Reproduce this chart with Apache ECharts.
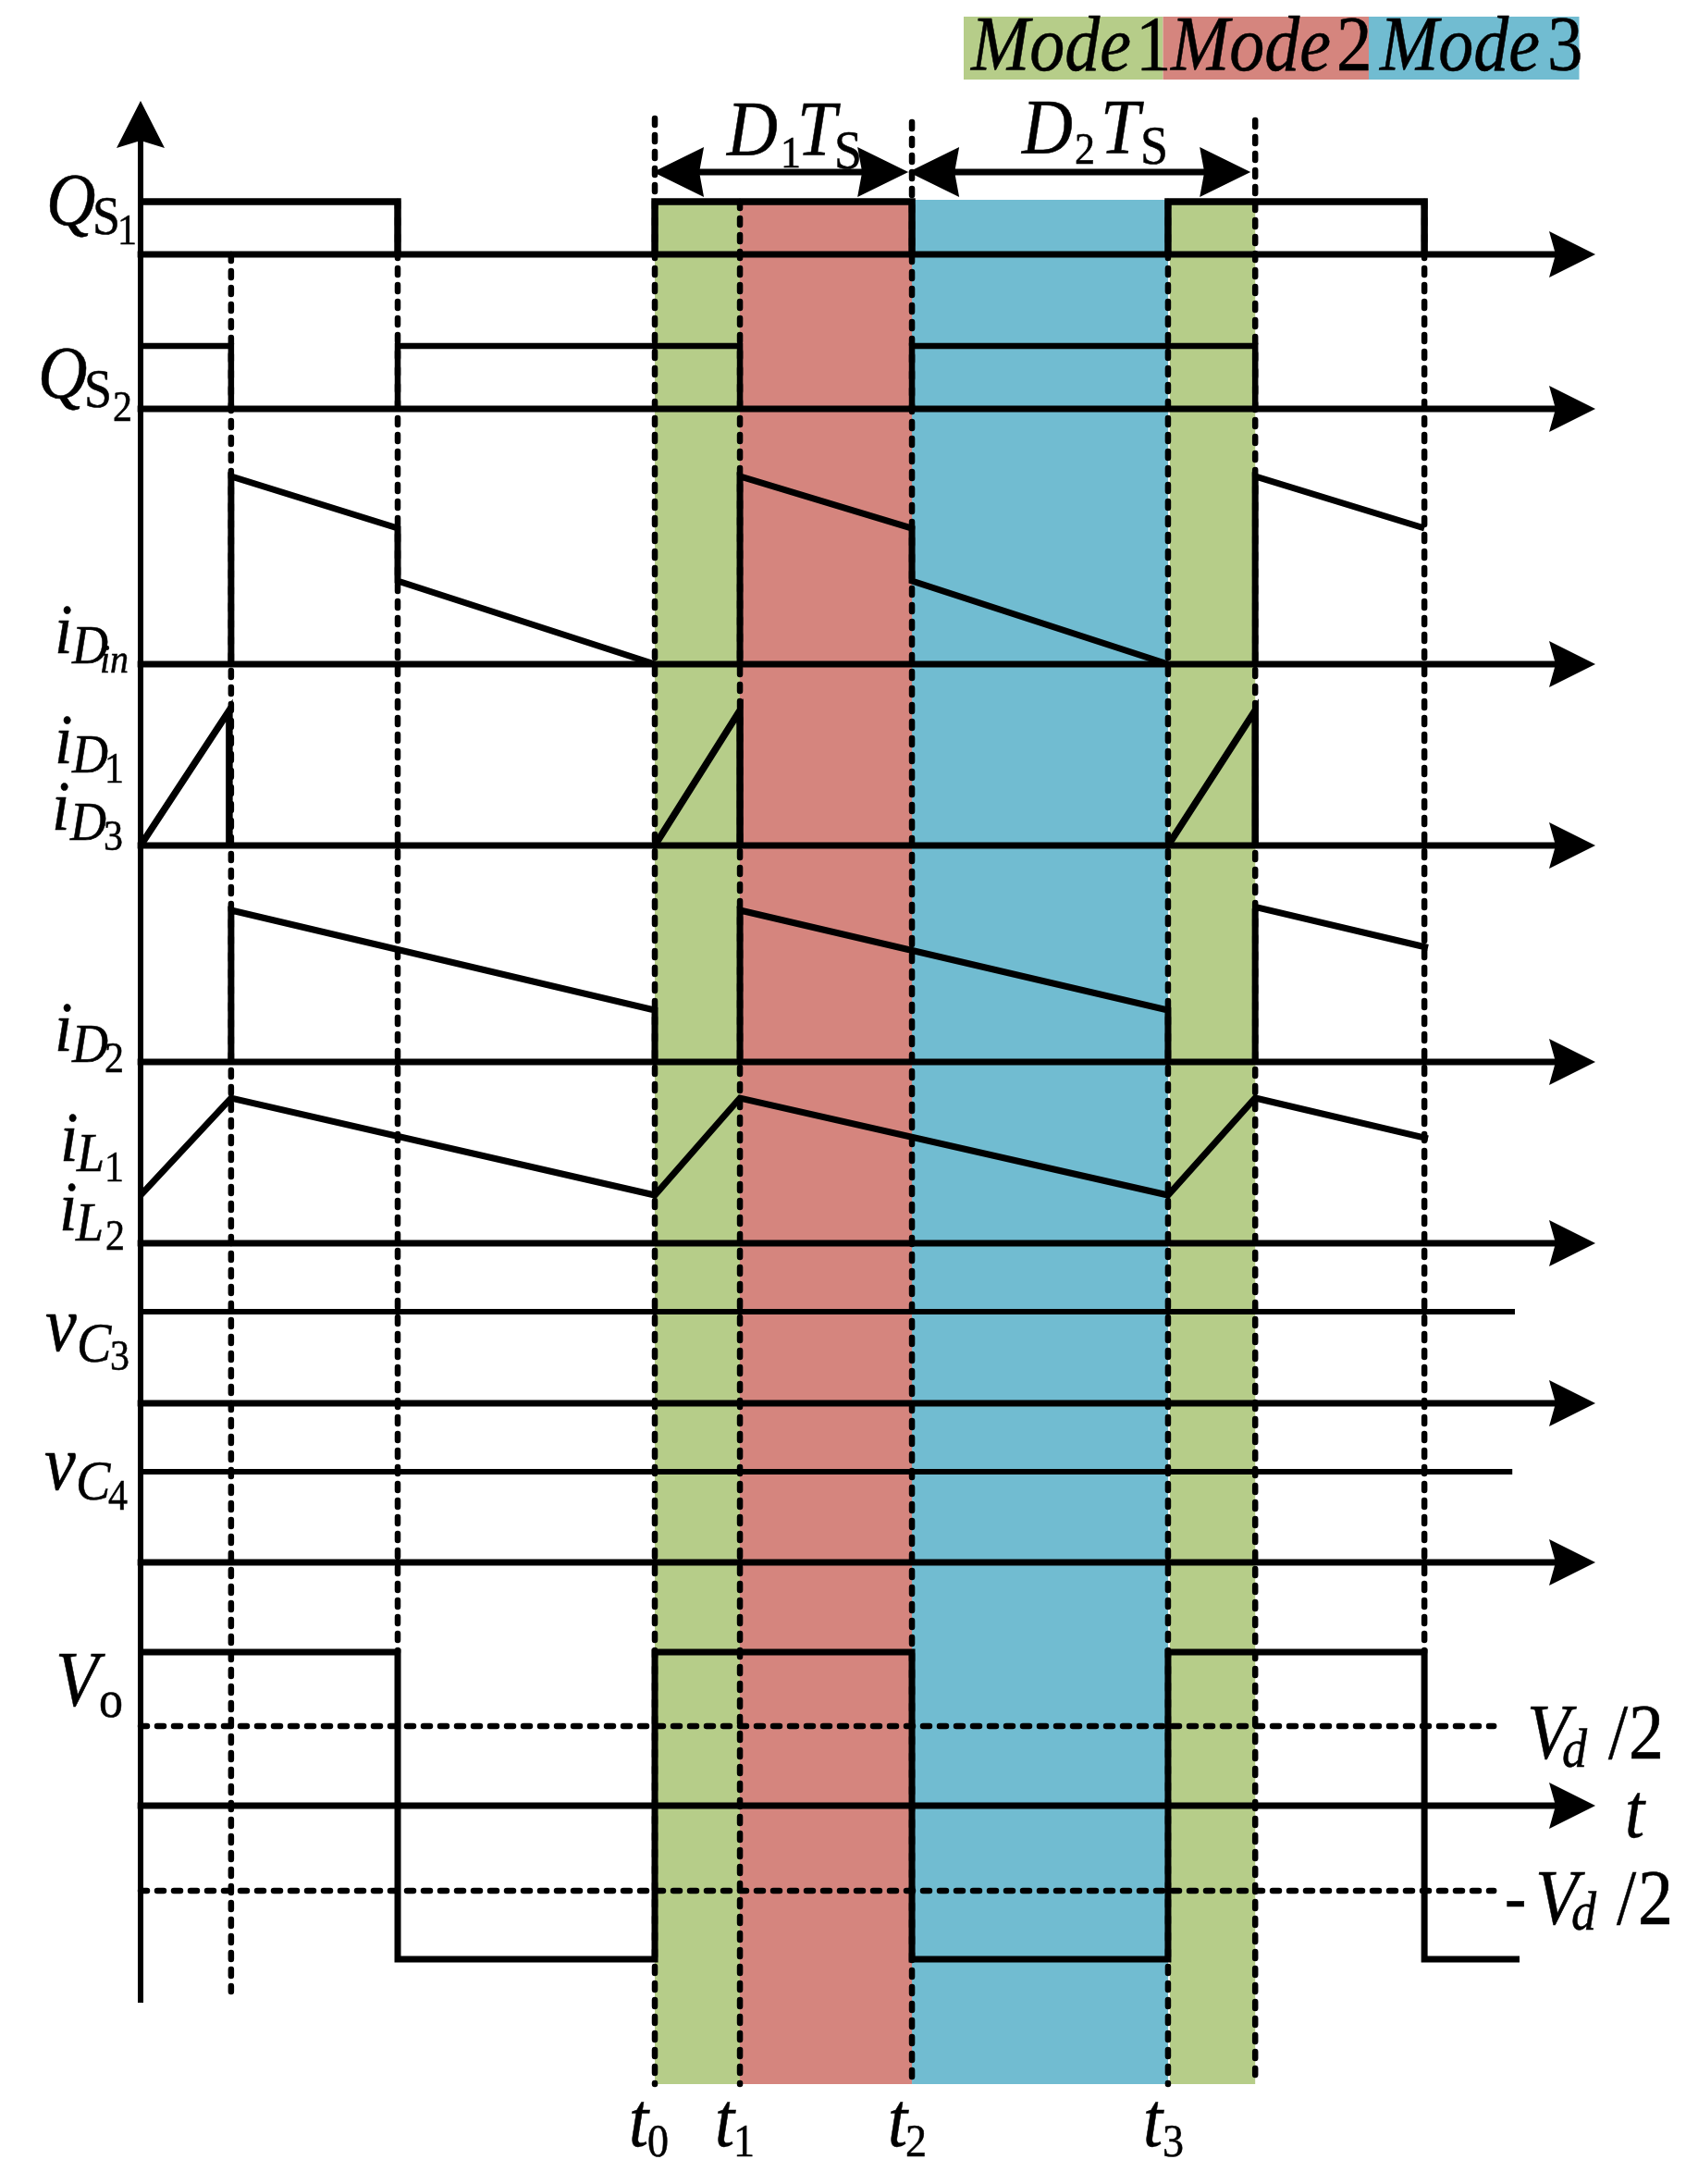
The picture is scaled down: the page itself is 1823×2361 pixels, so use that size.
<!DOCTYPE html>
<html>
<head>
<meta charset="utf-8">
<style>html,body{margin:0;padding:0;background:#fff}#c{width:1823px;height:2361px}</style>
<script src="https://cdn.jsdelivr.net/npm/echarts@6/dist/echarts.min.js"></script>
</head>
<body>
<div id="c"></div>
<script>
// ---- switching instants (time unit = half a switching period) ----
const tA = 0.352, tB = 1, t0 = 2, t1 = 2.331, t2 = 3, t3 = 3.996, t4 = 4.335, tC = 4.993;
const timeEnd = 5.658;

// ---- waveforms: time / level pairs, null breaks the trace ----
const q1Time  = [0, 1, 1, null, 2, 2, 3, 3, null, t3, t3, tC, tC];
const q1Level = [1, 1, 0, null, 0, 1, 1, 0, null, 0, 1, 1, 0];
const q2Time  = [0, tA, tA, null, 1, 1, t1, t1, null, 3, 3, t4, t4];
const q2Level = [1, 1, 0, null, 0, 1, 1, 0, null, 0, 1, 1, 0];
const iDinTime  = [tA, tA, 1, 1, 2, null, t1, t1, 3, 3, t3, null, t4, t4, tC];
const iDinLevel = [0, 1, 0.724, 0.443, 0, null, 0, 1, 0.724, 0.443, 0, null, 0, 1, 0.724];
const iD1Time  = [0, 0.345, 0.345, null, 2, t1, t1, null, t3, t4, t4];
const iD1Level = [0, 1, 0, null, 0, 1, 0, null, 0, 1, 0];
const iD2Time  = [tA, tA, 2, 2, null, t1, t1, t3, t3, null, t4, t4, 4.345, 5.007];
const iD2Level = [0, 1, 0.341, 0, null, 0, 1, 0.341, 0, null, 0, 1, 1.018, 0.753];
const iLTime  = [0, tA, 2, t1, t3, t4, 5.007];
const iLLevel = [0.331, 1, 0.331, 1, 0.331, 1, 0.72];
const vC3Time  = [0, 5.345];
const vC3Level = [1, 1];
const vC4Time  = [0, 5.335];
const vC4Level = [1, 1];
const voTime  = [0, 1, 1, 2, 2, 3, 3, t3, t3, tC, tC, 5.363];
const voLevel = [1, 1, -1, -1, 1, 1, -1, -1, 1, 1, -1, -1];
const vdHalfTime = [0, 5.263];
const vdPosLevel = [0.518, 0.518];
const vdNegLevel = [-0.554, -0.554];

// ---- mode bands and guides ----
const modeNames  = ['Mode', 'Mode', 'Mode'];
const modeDigits = ['1', '2', '3'];
const bandStart = [t0, t1, t2, 4.003];
const bandEnd   = [t1, t2, t3, t4];
const bandMode  = [0, 1, 2, 0];
const guideTime = [tA, tB, t0, t1, t2, t3, t4, tC];
const guideFrom = [275, 218, 128, 218, 132, 218, 130, 218];
const guideTo   = [2153, 1786, 2253, 2253, 2253, 2253, 2253, 1786];
const dimStart = [1.993, 2.986];
const dimEnd   = [2.986, 4.317];

// ---- text pieces: string, left edge, baseline, size, italic ----
const labelText = [
 'Q','S','1','Q','S','2',
 'i','D','in','i','D','1','i','D','3','i','D','2',
 'i','L','1','i','L','2',
 'v','C','3','v','C','4','V','o',
 'V','d','/','2','t','-','V','d','/','2',
 't','0','t','1','t','2','t','3',
 'D','1','T','S','D','2','T','S',
 'Mode','1','Mode','2','Mode','3'];
const labelX = [
 50,100,127,41,91,122,
 59,78,108,59,78,113,56,76,112,59,78,113,
 65,83,113,64,82,114,
 49,83,119,48,82,117,60,107,
 1651,1689,1739,1761,1757,1627,1660,1699,1748,1771,
 680,700,773,793,960,979,1236,1257,
 786,844,862,902,1105,1162,1190,1233,
 1050,1228,1266,1445,1492,1673];
const labelY = [
 245,255,265,432,442,456,
 708,719,728,827,837,847,899,910,920,1138,1150,1160,
 1257,1268,1278,1332,1343,1352,
 1462,1474,1482,1612,1623,1633,1846,1858,
 1903,1912,1903,1903,1988,2078,2082,2088,2082,2082,
 2322,2332,2322,2332,2322,2332,2322,2332,
 170,182,170,184,168,178,168,179,
 78,78,78,78,78,78];
const labelSize = [
 74,54,42,74,54,42,
 70,54,40,70,54,42,70,54,42,70,54,42,
 70,54,42,70,54,42,
 76,56,42,76,56,42,76,52,
 76,54,76,76,76,70,76,54,76,76,
 76,46,76,46,76,46,76,46,
 76,44,76,54,76,44,76,54,
 76,77,76,77,76,77];
const labelItalic = [
 1,0,0,1,0,0,
 1,1,1,1,1,0,1,1,0,1,1,0,
 1,1,0,1,1,0,
 1,1,0,1,1,0,1,0,
 1,1,0,0,1,0,1,1,0,0,
 1,0,1,0,1,0,1,0,
 1,0,1,0,1,0,1,0,
 1,0,1,0,1,0];
const legendEdges = [1042, 1257.5, 1480, 1707.5];

// ---- styling and layout ----
const modeColors = ['#B6CD89', '#D5857E', '#71BCD1'];
const plotLeft = 152, plotWidth = 1573;
const FONT = '"Liberation Serif","Times New Roman",serif';
const textStretchY = 1.1;

const traces = [
 {t:q1Time,  v:q1Level,  top:218,  bottom:275,  w:7.5},
 {t:q2Time,  v:q2Level,  top:374,  bottom:442,  w:6.5},
 {t:iDinTime,v:iDinLevel,top:515,  bottom:718,  w:7},
 {t:iD1Time, v:iD1Level, top:768,  bottom:914,  w:7.5},
 {t:iD2Time, v:iD2Level, top:984,  bottom:1148, w:7},
 {t:iLTime,  v:iLLevel,  top:1187, bottom:1344, w:7},
 {t:vC3Time, v:vC3Level, top:1418, bottom:1517, w:6},
 {t:vC4Time, v:vC4Level, top:1591, bottom:1689, w:6},
 {t:voTime,  v:voLevel,  top:1786, bottom:2118, w:7, min:-1}
];

const grid = [], xAxis = [], yAxis = [], series = [];
function addGrid(g, x, y) {
  grid.push(Object.assign({containLabel:false}, g));
  const i = grid.length - 1;
  xAxis.push(Object.assign({type:'value', gridIndex:i, show:false}, x));
  yAxis.push(Object.assign({type:'value', gridIndex:i, show:false}, y));
  return i;
}
const zip = (t, v) => t.map((x, i) => x === null ? ['-', '-'] : [x, v[i]]);
const line = (i, data, width, z, extra) => ({
  type:'line', xAxisIndex:i, yAxisIndex:i, data, showSymbol:false, symbol:'none',
  clip:false, silent:true, animation:false, z,
  lineStyle:Object.assign({color:'#000', width, cap:'butt', join:'miter'}, extra || {})
});
function head(px, py, dir, len, half, notch) {
  const p = (a, b) => dir === 'r' ? [px + a, py + b] : dir === 'l' ? [px - a, py + b] : [px + b, py - a];
  return {type:'polygon', shape:{points:[p(0,0), p(-len,-half), p(-len+notch,0), p(-len,half)]}, style:{fill:'#000'}};
}

// annotation grid: whole page
const page = addGrid({left:0, top:0, width:1823, height:2361}, {min:0, max:1823}, {min:0, max:2361, inverse:true});
// time grid spanning the page height: bands and guides
const span = addGrid({left:plotLeft, top:0, width:plotWidth, height:2361}, {min:0, max:timeEnd}, {min:0, max:2361, inverse:true});

// bands
series.push({
  type:'custom', xAxisIndex:span, yAxisIndex:span, z:1, silent:true, animation:false, clip:false,
  data:bandStart.map((s, i) => [s, bandEnd[i]]),
  renderItem(p, api) {
    const a = api.coord([api.value(0), 216]), b = api.coord([api.value(1), 2253]);
    return {type:'rect', shape:{x:a[0], y:a[1], width:b[0]-a[0], height:b[1]-a[1]},
            style:{fill:modeColors[bandMode[p.dataIndex]]}};
  }
});
// legend swatches
series.push({
  type:'custom', xAxisIndex:page, yAxisIndex:page, z:1, silent:true, animation:false, clip:false,
  data:modeNames.map((_, i) => [legendEdges[i], legendEdges[i+1]]),
  renderItem(p, api) {
    const a = api.coord([api.value(0), 18]), b = api.coord([api.value(1), 86]);
    return {type:'rect', shape:{x:a[0], y:a[1], width:b[0]-a[0], height:b[1]-a[1]},
            style:{fill:modeColors[p.dataIndex]}};
  }
});
// guides
guideTime.forEach((g, i) => {
  series.push(line(span, [[g, guideFrom[i]], [g, guideTo[i]]], 6.5, 3, {type:[7,11], cap:'round'}));
});
// vertical axis
series.push(line(span, [[0, 2165], [0, 150]], 6, 5));
series.push({
  type:'custom', xAxisIndex:span, yAxisIndex:span, z:6, silent:true, animation:false, clip:false,
  data:[[0, 109]],
  renderItem(p, api) { const c = api.coord([api.value(0), api.value(1)]); return head(c[0], c[1], 'u', 51, 26, 8); }
});
// dimension arrows
dimStart.forEach((s, i) => {
  series.push(line(span, [[s + 0.05, 186], [dimEnd[i] - 0.05, 186]], 7, 6));
});
series.push({
  type:'custom', xAxisIndex:span, yAxisIndex:span, z:6, silent:true, animation:false, clip:false,
  data:dimStart.map((s, i) => [s, dimEnd[i]]),
  renderItem(p, api) {
    const a = api.coord([api.value(0), 186]), b = api.coord([api.value(1), 186]);
    return {type:'group', children:[head(a[0], a[1], 'l', 55, 27, 5), head(b[0], b[1], 'r', 55, 27, 5)]};
  }
});

// traces, each in its own grid with its own level scale
traces.forEach(tr => {
  const i = addGrid({left:plotLeft, top:tr.top, width:plotWidth, height:tr.bottom - tr.top},
                    {min:0, max:timeEnd}, {min:tr.min === undefined ? 0 : tr.min, max:1});
  series.push(line(i, [[-0.012, 0], [timeEnd - 0.1, 0]], 7, 5));
  series.push(line(i, zip(tr.t, tr.v), tr.w, 7));
  series.push({
    type:'custom', xAxisIndex:i, yAxisIndex:i, z:6, silent:true, animation:false, clip:false,
    data:[[timeEnd, 0]],
    renderItem(p, api) { const c = api.coord([api.value(0), api.value(1)]); return head(c[0], c[1], 'r', 50, 25, 7); }
  });
  if (tr.min !== undefined) {
    series.push(line(i, zip(vdHalfTime, vdPosLevel), 6.5, 4, {type:[7,11], cap:'round'}));
    series.push(line(i, zip(vdHalfTime, vdNegLevel), 6.5, 4, {type:[7,11], cap:'round'}));
  }
});

// text: anchored on its baseline, then stretched upward about it
series.push({
  type:'custom', xAxisIndex:page, yAxisIndex:page, z:10, silent:true, animation:false, clip:false,
  data:labelText.map((_, i) => [labelX[i], labelY[i]]),
  renderItem(p, api) {
    const k = p.dataIndex, c = api.coord([api.value(0), api.value(1)]), s = labelSize[k];
    return {type:'text', x:c[0], y:c[1], scaleY:textStretchY, style:{
      x:0, y:-0.29 * s, text:labelText[k], fill:'#000', stroke:'#000', lineWidth:0.5,
      font:(labelItalic[k] ? 'italic ' : '') + s + 'px ' + FONT,
      align:'left', verticalAlign:'middle'}};
  }
});

const chart = echarts.init(document.getElementById('c'), null, {width:1823, height:2361, renderer:'canvas'});
chart.setOption({animation:false, backgroundColor:'#fff', tooltip:{show:false}, legend:{show:false}, grid, xAxis, yAxis, series});
</script>
</body>
</html>
